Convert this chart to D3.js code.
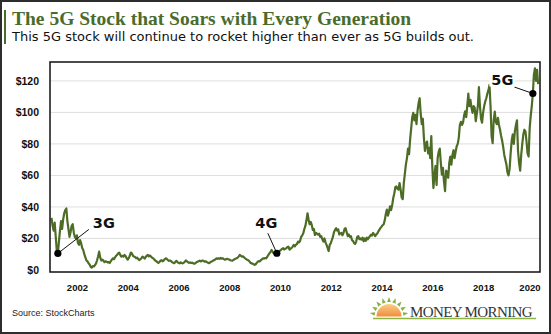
<!DOCTYPE html>
<html><head><meta charset="utf-8">
<script src="https://cdn.jsdelivr.net/npm/d3@7"></script>
<style>html,body{margin:0;padding:0;background:#fff;} svg{display:block;}</style>
</head><body><svg id="c" width="551" height="334"></svg>
<script>
// ---------- DATA (semi-monthly closing prices) ----------
const years = [2001,2002,2003,2004,2005,2006,2007,2008,2009,2010,2011,2012,2013,2014,2015,2016,2017,2018,2019,2020];
const prices2001 = [33,28,25,30,21,12,10.5,18,25,31,26,32,36,38,39,31,26,21,24,28,29,24,21,20];
const prices2002 = [22,17,16,19,17,14,12.7,10,8,6,5.5,4.2,3.5,2,1.5,2.5,2.2,3,4,6,8.5,11.6,8,6];
const prices2003 = [6.5,6,5,5.5,5.3,4.8,5,4.4,5.5,6.5,7.4,6.8,8,9,9.5,10.5,11,9.5,8.5,9,8.5,9.5,8.8,7.5];
const prices2004 = [6.5,7.5,9,11,10.5,9,8.5,8.2,7.5,7.8,6.8,6.3,6.8,7.5,8.5,8,7.2,8.2,9,9.5,8.6,9.2,8.5,7.8];
const prices2005 = [7.4,6.8,6,5.6,5,4.5,5,5.8,6.2,5.5,6,6.8,7.4,7,6.3,5.8,6,5.6,5,4.6,4.3,5,5.8,5];
const prices2006 = [4.5,4.2,4.8,4.4,4.2,4.6,5.2,6,5.5,5,4.5,4.8,4.4,4.6,4.2,4,4.3,4.9,5.2,5.6,5.9,5.4,5.8,6];
const prices2007 = [5.6,5.2,5.5,4.9,4.6,4.3,4.8,5.3,5.6,6,6.3,6.8,7.4,7,7.4,7.1,7.6,7.2,7.4,6.9,6.5,6.8,7.1,6.8];
const prices2008 = [6.6,6.2,6,5.9,6.4,6.8,7.2,7.4,7.8,8.6,9.5,9,8.5,8.6,8,7.4,6.9,6.5,6.2,5.5,4.6,4.2,4,3.6];
const prices2009 = [3.2,3.6,4.5,5.3,5.6,5.5,6.3,6.8,7.4,7.2,7.6,7.4,8.5,9.5,10.5,11.5,12.7,11.5,10.6,10.8,10.4,10.6,11.2,11.8];
const prices2010 = [12.3,12.8,13.5,13.8,13,13.5,13.8,14.5,14.8,12.9,13.5,14,14.8,15.9,15,15.9,16.5,18,17.5,18.5,21,22,23.3,26];
const prices2011 = [28,31.5,36,32,29,30.5,28.6,25.4,26,22.2,23.5,23,22.4,23,21,21.5,19.5,18,20,17.5,15.9,14,12,15.9];
const prices2012 = [17,19,21,24,25.4,26.5,25,25.8,22.5,23.3,23.5,22,23.5,26,26.5,24,21.5,22.5,21,21.5,19,18.5,17,16.5];
const prices2013 = [18,21,21.5,19.5,20,19.2,20.5,18.2,20,18.5,20.5,19.5,20.5,21.5,22.4,21.8,23.5,22.5,21.5,22.6,23.2,24.5,25.6,26.7];
const prices2014 = [27.5,28.4,29,31.5,35.5,38.3,34.5,37,40.4,38,41,45.5,48.5,52.5,53,51.5,51,55.2,51,46,45,55,61,67];
const prices2015 = [71,77,73.5,83,90,97,99.7,95,98.5,92.5,101,106,109,99,92.5,96,84,75.5,80,81.5,74,77.5,71,85];
const prices2016 = [65,52,60,66,54,71,75,77,68,60.5,64.8,56,50,63,62,58.5,68,72,66.9,73,76,71,75,78.5];
const prices2017 = [80,84,92,94,92,93.5,98,100.7,97,104,112,104,108,103,99.7,104,103,94.4,99,104,116,104,96,93.5];
const prices2018 = [100,104,107,109,112,114,117.5,104,85,80.5,95,100.5,94,92.5,96.5,92,89,85,82,78,73,70,67,62];
const prices2019 = [60,64,74,82,86,80,88,92,95,75.4,68,63,73,80,86,89,88,81.7,74,72,90,98,104,112];
const prices2020 = [124,128,120,127,118];
const priceSeries = [prices2001,prices2002,prices2003,prices2004,prices2005,prices2006,prices2007,prices2008,prices2009,prices2010,
                     prices2011,prices2012,prices2013,prices2014,prices2015,prices2016,prices2017,prices2018,prices2019,prices2020];
const stepsPerYear = 24;

const xTickYears = [2002,2004,2006,2008,2010,2012,2014,2016,2018,2020];
const yTickValues = [0,20,40,60,80,100,120];

const genLabels = ["3G","4G","5G"];
const genYear   = [2001,2009,2019];
const genStep   = [6,21,23];

const titleText = "The 5G Stock that Soars with Every Generation";
const subtitleText = "This 5G stock will continue to rocket higher than ever as 5G builds out.";
const sourceText = "Source: StockCharts";
const logoText = "MONEY MORNING";

// ---------- DRAW ----------
const W = 551, H = 334;
const svg = d3.select("#c");
const green = "#4b6b2c";
const lineGreen = "#4d6d26";

svg.append("rect").attr("x",1).attr("y",1).attr("width",W-2).attr("height",H-2)
  .attr("fill","#fff").attr("stroke","#2d2d2d").attr("stroke-width",2);
svg.append("rect").attr("x",4).attr("y",10).attr("width",2).attr("height",34).attr("fill",green);

svg.append("text").attr("x",12).attr("y",24.5).text(titleText)
  .attr("font-family","'Liberation Serif', 'Times New Roman', serif").attr("font-weight","bold")
  .attr("font-size",19.5).attr("fill",green);
svg.append("text").attr("x",12).attr("y",41).text(subtitleText)
  .attr("font-family","'DejaVu Sans', sans-serif").attr("font-size",13).attr("fill","#111");

const plot = {l:50, r:540, t:62, b:272};
const x = d3.scaleLinear().domain([2000.94, 2020.24]).range([plot.l, plot.r]);
const y = d3.scaleLinear().domain([-1.3, 132]).range([plot.b, plot.t]);

// gridlines
svg.append("g").selectAll("line").data(yTickValues.filter(d => d > 0)).join("line")
  .attr("x1",plot.l).attr("x2",plot.r).attr("y1",d => y(d)).attr("y2",d => y(d))
  .attr("stroke","#dedede").attr("stroke-width",1);

// y axis
const yAxis = d3.axisLeft(y).tickValues(yTickValues).tickSize(0).tickPadding(11).tickFormat(d => "$" + d);
svg.append("g").attr("transform",`translate(${plot.l},0)`).call(yAxis)
  .call(g => g.select(".domain").remove())
  .selectAll("text").attr("font-family","'Liberation Sans', Arial, sans-serif")
  .attr("font-size",10.5).attr("font-weight","bold").attr("fill","#111");

// x axis
const xAxis = d3.axisBottom(x).tickValues(xTickYears).tickSize(0).tickPadding(12).tickFormat(d3.format("d"));
const gx = svg.append("g").attr("transform",`translate(0,${plot.b})`).call(xAxis);
gx.select(".domain").remove();
gx.selectAll("text").attr("font-family","'Liberation Sans', Arial, sans-serif")
  .attr("font-size",9.5).attr("font-weight","bold").attr("fill","#111");
gx.selectAll(".tick").filter(d => d === xTickYears[xTickYears.length-1]).select("text")
  .attr("text-anchor","end").attr("x", plot.r - x(xTickYears[xTickYears.length-1]));

// line
const points = [];
years.forEach((yr,k) => priceSeries[k].forEach((v,i) => points.push({t: yr + i/stepsPerYear, v})));
const line = d3.line().x(d => x(d.t)).y(d => y(d.v));
svg.append("path").datum(points).attr("d",line).attr("fill","none")
  .attr("stroke",lineGreen).attr("stroke-width",2.2).attr("stroke-linejoin","round");

// frame
svg.append("rect").attr("x",plot.l).attr("y",plot.t).attr("width",plot.r-plot.l).attr("height",plot.b-plot.t)
  .attr("fill","none").attr("stroke","#111").attr("stroke-width",1.5);

// annotations
const annLayout = [
  {lx:35,  ly:-25, anchor:"start", ex:31,    ey:-24, bg:false},
  {lx:0.5, ly:-25, anchor:"end",   ex:-9,    ey:-20, bg:false},
  {lx:-19.5, ly:-9, anchor:"end",  ex:-18.5, ey:-6.5, bg:true}
];
genLabels.forEach((lab,k) => {
  const idx = years.indexOf(genYear[k]);
  const v = priceSeries[idx][genStep[k]];
  const cx = x(genYear[k] + genStep[k]/stepsPerYear), cy = y(v);
  const L = annLayout[k];
  const g = svg.append("g");
  g.append("line").attr("x1",cx).attr("y1",cy).attr("x2",cx+L.ex).attr("y2",cy+L.ey)
    .attr("stroke","#111").attr("stroke-width",1);
  const t = g.append("text").attr("x",cx+L.lx).attr("y",cy+L.ly).attr("text-anchor",L.anchor)
    .attr("font-family","'DejaVu Sans', sans-serif").attr("font-weight","bold")
    .attr("font-size",14.5).attr("fill","#111").text(lab);
  if (L.bg) {
    const bb = t.node().getBBox();
    g.insert("rect","text").attr("x",bb.x-2).attr("y",bb.y+1).attr("width",bb.width+4).attr("height",bb.height-2).attr("fill","#fff");
  }
  g.append("circle").attr("cx",cx).attr("cy",cy).attr("r",3.6).attr("fill","#000");
});

// source
svg.append("text").attr("x",12).attr("y",316).text(sourceText)
  .attr("font-family","'Liberation Sans', Arial, sans-serif").attr("font-size",9).attr("fill","#222");

// logo
const defs = svg.append("defs");
const grad = defs.append("linearGradient").attr("id","sun").attr("x1",0).attr("y1",0).attr("x2",0).attr("y2",1);
grad.append("stop").attr("offset","0%").attr("stop-color","#f9cf86");
grad.append("stop").attr("offset","100%").attr("stop-color","#f08c3e");
const sx = 389, sy = 316.5, sr = 12.5;
const logo = svg.append("g");
const rays = d3.range(10, 171, 20);
logo.selectAll("path.ray").data(rays).join("path").attr("class","ray")
  .attr("d", a => {
    const r0 = sr + 2, r1 = sr + 7, rad = a*Math.PI/180, w = 0.13;
    const p1 = [sx + r0*Math.cos(rad-w), sy - r0*Math.sin(rad-w)];
    const p2 = [sx + r1*Math.cos(rad), sy - r1*Math.sin(rad)];
    const p3 = [sx + r0*Math.cos(rad+w), sy - r0*Math.sin(rad+w)];
    return `M${p1}L${p2}L${p3}Z`;
  }).attr("fill","#86b040");
logo.append("path").attr("d",`M${sx-sr},${sy} A${sr},${sr} 0 0 1 ${sx+sr},${sy} Z`).attr("fill","url(#sun)");
logo.append("line").attr("x1",373).attr("x2",536).attr("y1",318.5).attr("y2",318.5)
  .attr("stroke","#8cb63f").attr("stroke-width",1.5);
logo.append("text").attr("x",410).attr("y",316.5).text(logoText)
  .attr("font-family","'Liberation Serif', 'Times New Roman', serif").attr("font-size",15)
  .attr("letter-spacing",-0.6).attr("fill","#333");
</script>
</body></html>
